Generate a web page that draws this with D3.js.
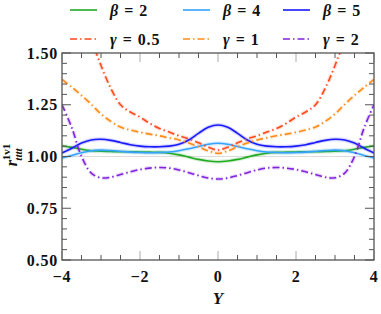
<!DOCTYPE html>
<html><head><meta charset="utf-8">
<script src="https://cdn.jsdelivr.net/npm/d3@7"></script>
<style>
html,body{margin:0;padding:0;background:#fff;}
svg text{font-family:"Liberation Serif","DejaVu Serif",serif;font-weight:bold;}
</style></head>
<body><svg id="c" width="381" height="314"></svg>
<script>
const Yvals = [-4,-3.75,-3.5,-3.25,-3,-2.75,-2.5,-2.25,-2,-1.75,-1.5,-1.25,-1,-0.75,-0.5,-0.25,0,0.25,0.5,0.75,1,1.25,1.5,1.75,2,2.25,2.5,2.75,3,3.25,3.5,3.75,4];
const beta2 = [1.051,1.044,1.035,1.028,1.025,1.024,1.023,1.023,1.022,1.021,1.020,1.016,1.008,0.997,0.986,0.978,0.975,0.978,0.986,0.997,1.008,1.016,1.020,1.021,1.022,1.023,1.023,1.024,1.025,1.028,1.035,1.044,1.051];
const beta4 = [0.993,1.005,1.018,1.028,1.031,1.029,1.025,1.021,1.019,1.018,1.019,1.022,1.028,1.037,1.048,1.059,1.064,1.059,1.048,1.037,1.028,1.022,1.019,1.018,1.019,1.021,1.025,1.029,1.031,1.028,1.018,1.005,0.993];
const beta5 = [1.017,1.040,1.065,1.080,1.083,1.078,1.068,1.057,1.050,1.047,1.047,1.050,1.059,1.080,1.112,1.141,1.152,1.141,1.112,1.080,1.059,1.050,1.047,1.047,1.050,1.057,1.068,1.078,1.083,1.080,1.065,1.040,1.017];
const gamma05 = [2.20,1.95,1.74,1.57,1.44,1.33,1.25,1.215,1.19,1.16,1.135,1.118,1.10,1.085,1.066,1.045,1.031,1.045,1.066,1.085,1.10,1.118,1.135,1.16,1.19,1.215,1.25,1.33,1.44,1.57,1.74,1.95,2.20];
const gamma1 = [1.372,1.335,1.295,1.252,1.205,1.170,1.142,1.128,1.117,1.108,1.100,1.090,1.080,1.065,1.047,1.027,1.015,1.027,1.047,1.065,1.080,1.090,1.100,1.108,1.117,1.128,1.142,1.170,1.205,1.252,1.295,1.335,1.372];
const gamma2 = [1.25,1.14,1.00,0.92,0.897,0.900,0.913,0.926,0.937,0.944,0.947,0.944,0.935,0.922,0.908,0.896,0.891,0.896,0.908,0.922,0.935,0.944,0.947,0.944,0.937,0.926,0.913,0.900,0.897,0.92,1.00,1.14,1.25];
const xTicks = [-4,-2,0,2,4];
const yTicks = [0.50,0.75,1.00,1.25,1.50];

const series = [
  {sym:"β", val:"2", data:beta2, color:"#22aa22", dash:null},
  {sym:"β", val:"4", data:beta4, color:"#33a3ff", dash:null},
  {sym:"β", val:"5", data:beta5, color:"#1a1aff", dash:null},
  {sym:"γ", val:"0.5", data:gamma05, color:"#ff4a1c", dash:"7,3,1.5,3"},
  {sym:"γ", val:"1", data:gamma1, color:"#ff8c1a", dash:"7,3,1.5,3"},
  {sym:"γ", val:"2", data:gamma2, color:"#8022dd", dash:"7,3,1.5,3"}
];

const svg = d3.select("#c");
const L=62, R=374, T=53, B=260;
const x = d3.scaleLinear().domain([-4,4]).range([L,R]);
const y = d3.scaleLinear().domain([0.5,1.5]).range([B,T]);

svg.append("defs").append("clipPath").attr("id","clip")
  .append("rect").attr("x",L).attr("y",T).attr("width",R-L).attr("height",B-T);

svg.append("line").attr("x1",L).attr("x2",R).attr("y1",y(1)).attr("y2",y(1))
  .attr("stroke","#dcdcdc").attr("stroke-width",1);

const line = d3.line().x((d,i)=>x(Yvals[i])).y(d=>y(d)).curve(d3.curveCatmullRom.alpha(0.5));
const g = svg.append("g").attr("clip-path","url(#clip)");
series.forEach(s=>{
  g.append("path").datum(s.data).attr("d",line).attr("fill","none")
    .attr("stroke",s.color).attr("stroke-opacity",0.18).attr("stroke-width",4)
    .attr("stroke-dasharray",s.dash);
  g.append("path").datum(s.data).attr("d",line).attr("fill","none")
    .attr("stroke",s.color).attr("stroke-width",1.6)
    .attr("stroke-dasharray",s.dash);
});

const axG = svg.append("g");
const xMinor = d3.range(-4,4.001,0.5);
xMinor.forEach(v=>{
  const major = Math.abs(v/2-Math.round(v/2))<1e-6;
  const len = major?9:5;
  const col = major?"#aaa":"#555";
  axG.append("line").attr("x1",x(v)).attr("x2",x(v)).attr("y1",B).attr("y2",B-len).attr("stroke",col).attr("stroke-width",1);
  axG.append("line").attr("x1",x(v)).attr("x2",x(v)).attr("y1",T).attr("y2",T+len).attr("stroke",col).attr("stroke-width",1);
});
const yMinor = d3.range(0.5,1.5001,0.05);
yMinor.forEach(v=>{
  const major = Math.abs(v/0.25-Math.round(v/0.25))<1e-6;
  const len = major?9:5;
  axG.append("line").attr("y1",y(v)).attr("y2",y(v)).attr("x1",L).attr("x2",L+len).attr("stroke","#555").attr("stroke-width",1);
  axG.append("line").attr("y1",y(v)).attr("y2",y(v)).attr("x1",R).attr("x2",R-len).attr("stroke","#555").attr("stroke-width",1);
});
svg.append("rect").attr("x",L).attr("y",T).attr("width",R-L).attr("height",B-T)
  .attr("fill","none").attr("stroke","#555").attr("stroke-width",1.3);

xTicks.forEach(v=>{
  svg.append("text").attr("x",x(v)).attr("y",282).attr("text-anchor","middle")
    .attr("font-size",16).attr("letter-spacing",0.6).attr("fill","#111").text(v<0?"\u2212"+Math.abs(v):String(v));
});
yTicks.forEach(v=>{
  svg.append("text").attr("x",58).attr("y",y(v)+5.5).attr("text-anchor","end")
    .attr("font-size",16).attr("letter-spacing",0.8).attr("fill","#111").text(d3.format(".2f")(v));
});

svg.append("text").attr("x",218).attr("y",304).attr("text-anchor","middle")
  .attr("font-size",17).attr("font-style","italic").attr("fill","#111").text("Y");
const yl = svg.append("text").attr("transform","translate(17,155) rotate(-90)")
  .attr("text-anchor","middle").attr("fill","#111").attr("font-size",16).attr("font-style","italic");
yl.append("tspan").text("r");
yl.append("tspan").attr("font-size",11).attr("font-style","normal").attr("dy",-7).text("1v1");
yl.append("tspan").attr("font-size",11).attr("dx",-17).attr("dy",12).text("tttt");

const legX = [70,183,283];
const legY = [10,39];
series.forEach((s,i)=>{
  const lx = legX[i%3], ly = legY[Math.floor(i/3)];
  svg.append("line").attr("x1",lx).attr("x2",lx+27).attr("y1",ly).attr("y2",ly)
    .attr("stroke",s.color).attr("stroke-width",1.6).attr("stroke-dasharray",s.dash);
  const t = svg.append("text").attr("x",lx+40).attr("y",ly+5.5).attr("font-size",16).attr("fill","#111");
  t.append("tspan").attr("font-style","italic").text(s.sym);
  t.append("tspan").attr("dx",6).text("=");
  t.append("tspan").attr("dx",6).attr("letter-spacing",0.8).text(s.val);
});
</script></body></html>
